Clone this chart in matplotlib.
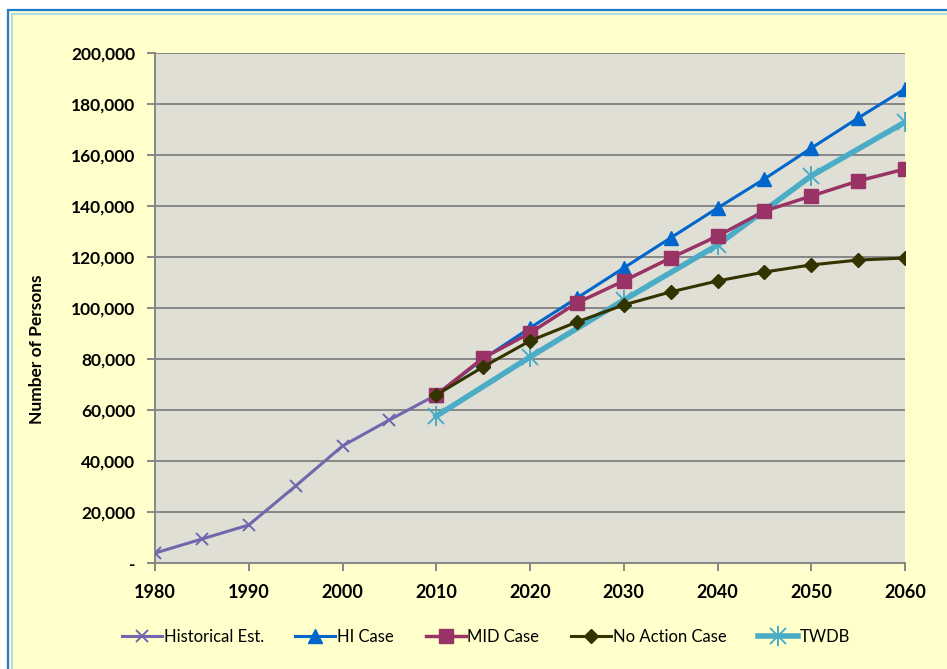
import matplotlib
matplotlib.use("Agg")
import matplotlib.pyplot as plt
from matplotlib.patches import Rectangle
from matplotlib.ticker import FuncFormatter
from matplotlib.legend_handler import HandlerTuple

# Population series (persons)
hist_years = [1980, 1985, 1990, 1995, 2000, 2005, 2010]
hist_vals = [3900, 9400, 14900, 30200, 45900, 56100, 65900]

proj_years = [2010, 2015, 2020, 2025, 2030, 2035, 2040, 2045, 2050, 2055, 2060]
hi_vals = [65900, 80000, 92200, 103900, 115700, 127500, 139200, 150600, 162700, 174500, 185900]
mid_vals = [65900, 80400, 90200, 102000, 110600, 119600, 128200, 138000, 143900, 149800, 154500]
noaction_vals = [65900, 76900, 87100, 94500, 101200, 106300, 110600, 114100, 116900, 118800, 119600]

twdb_years = [2010, 2020, 2030, 2040, 2050, 2060]
twdb_vals = [57600, 80800, 103100, 124700, 151800, 172900]

x_ticks = [1980, 1990, 2000, 2010, 2020, 2030, 2040, 2050, 2060]
y_ticks = [0, 20000, 40000, 60000, 80000, 100000, 120000, 140000, 160000, 180000, 200000]

FONT = ["Lato", "DejaVu Sans"]
plt.rcParams["font.family"] = FONT

W, H = 947, 669
fig = plt.figure(figsize=(W / 100, H / 100), dpi=100)
fig.patch.set_facecolor("white")

# chart area background with double blue frame
fig.patches.append(Rectangle((8 / W, -0.05), 1.1, (H - 10) / H + 0.05,
                             transform=fig.transFigure, facecolor="#FFFFCC",
                             edgecolor="#1F7BD0", linewidth=1.6, zorder=-10))
fig.patches.append(Rectangle((12 / W, -0.05), 1.1, (H - 14) / H + 0.05,
                             transform=fig.transFigure, facecolor="none",
                             edgecolor="#A9D3EE", linewidth=1.2, zorder=-9))

ax = fig.add_axes([155 / W, (H - 563) / H, 750 / W, 510 / H])
ax.set_zorder(1)
ax.set_facecolor("#E0DFD6")

l_hist, = ax.plot(hist_years, hist_vals, color="#7266AC", lw=2.2, marker="x", ms=9,
                  mew=1.4, zorder=3)
l_hi, = ax.plot(proj_years, hi_vals, color="#0066CC", lw=2.2, marker="^", ms=10,
                zorder=4)
l_mid, = ax.plot(proj_years, mid_vals, color="#993366", lw=2.5, marker="s", ms=9.5,
                 zorder=4)
l_na, = ax.plot(proj_years, noaction_vals, color="#333300", lw=2.2, marker="D", ms=7.5,
                zorder=5)
l_tw, = ax.plot(twdb_years, twdb_vals, color="#4BACC6", lw=4, marker="x", ms=11,
                mew=1.4, zorder=3)
l_tw_bar, = ax.plot(twdb_years, twdb_vals, ls="none", marker="|", ms=14, mew=1.4,
                    color="#4BACC6", zorder=3)

ax.set_xlim(1980, 2060)
ax.set_ylim(0, 200000)
ax.set_xticks(x_ticks)
ax.set_yticks(y_ticks)
ax.yaxis.set_major_formatter(FuncFormatter(lambda v, p: "-" if v == 0 else f"{int(v):,}"))

ax.grid(axis="y", color="#868686", lw=1.4)
ax.set_axisbelow(True)
for side in ("top", "right"):
    ax.spines[side].set_visible(False)
for side in ("left", "bottom"):
    ax.spines[side].set_color("#868686")
    ax.spines[side].set_linewidth(1.4)

ax.tick_params(axis="both", direction="out", color="#868686", width=1.4, length=6)
ax.tick_params(axis="y", pad=8, labelsize=12.5)
ax.tick_params(axis="x", pad=9, labelsize=13)
for lbl in ax.get_xticklabels() + ax.get_yticklabels():
    lbl.set_fontweight("bold")

ax.set_ylabel("Number of Persons", fontsize=12.5, fontweight="bold")
ax.yaxis.set_label_coords(-(155 - 45) / 750, 0.42)

fig.legend([l_hist, l_hi, l_mid, l_na, (l_tw, l_tw_bar)],
           ["Historical Est.", "HI Case", "MID Case", "No Action Case", "TWDB"],
           handler_map={tuple: HandlerTuple(ndivide=1, pad=0)},
           loc="center", bbox_to_anchor=(486 / W, (H - 637) / H), ncol=5,
           frameon=False, fontsize=12, handlelength=2.4, columnspacing=1.9,
           handletextpad=0.1)

fig.savefig("out.png", dpi=100, facecolor=fig.get_facecolor())
